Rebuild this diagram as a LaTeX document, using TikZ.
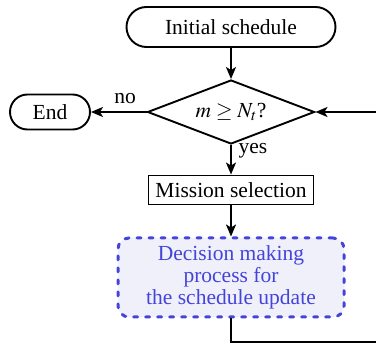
\documentclass[tikz,border=0pt]{standalone}
\usepackage{mathptmx}
\usepackage{fontspec}
\setmainfont{Liberation Serif}
\usetikzlibrary{shapes.geometric,shapes.misc,arrows.meta}
\definecolor{dmblue}{RGB}{68,68,218}
\definecolor{dmfill}{RGB}{240,240,250}
\tikzset{
  base/.style={draw, line width=1.9pt, font=\fontsize{21.5}{22}\selectfont, inner sep=0pt, align=center},
  term/.style={base, rounded rectangle},
  procbox/.style={base, rectangle},
  decide/.style={base, diamond, aspect=2.6},
  dmbox/.style={base, draw=dmblue, text=dmblue, fill=dmfill, rounded corners=11pt, line width=3pt, line cap=round, dash pattern=on 4pt off 8pt},
  conn/.style={line width=1.9pt, -{Stealth[length=12pt,width=10pt,inset=3pt]}},
  lbl/.style={font=\fontsize{21.5}{22}\selectfont, inner sep=0pt}
}
\begin{document}
\begin{tikzpicture}[x=1pt,y=-1pt]
\useasboundingbox (0,0) rectangle (376,345);
\clip (0,0) rectangle (376,345);
\node[term, minimum width=209pt, minimum height=40pt] (init) at (231,27) {Initial schedule};
\node[decide, minimum width=167pt, minimum height=64pt] (dec) at (231,112) {$m \geq N_t$?};
\node[term, minimum width=80pt, minimum height=35pt] (end) at (50,112) {End};
\node[procbox, minimum width=165pt, minimum height=29pt] (mis) at (231,190) {Mission selection};
\node[dmbox, minimum width=226pt, minimum height=79pt] (dm) at (231,277.5) {Decision making\\process for\\the schedule update};
\coordinate (c1) at (231,342);
\coordinate (c2) at (400,342);
\draw[conn] (init) -- (dec);
\draw[conn] (dec.west) -- (end.east);
\draw[conn] (dec.south) -- (mis.north);
\draw[conn] (mis.south) -- (dm.north);
\draw[conn] (dm.south) -- (c1) -- (c2) |- (dec.east);
\node[lbl] (no) at (125,99) {no};
\node[lbl] (yes) at (253,151) {yes};
\end{tikzpicture}
\end{document}
